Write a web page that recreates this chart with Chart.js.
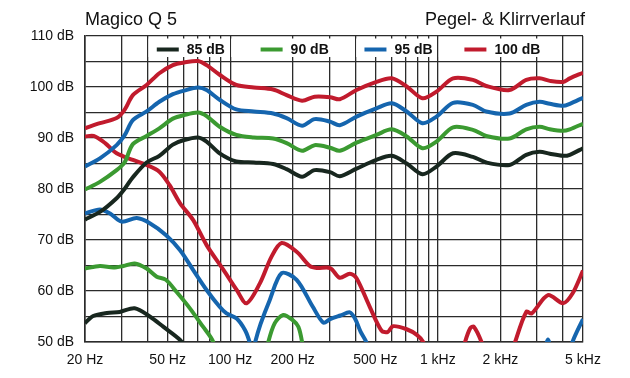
<!DOCTYPE html>
<html>
<head>
<meta charset="utf-8">
<title>Magico Q 5 - Pegel- & Klirrverlauf</title>
<script src="https://cdn.jsdelivr.net/npm/chart.js@4.4.1/dist/chart.umd.min.js"></script>
<style>
  html, body { margin: 0; padding: 0; background: #ffffff; }
  #chart { display: block; }
</style>
</head>
<body>
<canvas id="chart" width="630" height="378"></canvas>
<script>
// Titel
const chartTitle = 'Magico Q 5';
const chartSubtitle = 'Pegel- & Klirrverlauf';

// Serien (Pegel)
const seriesNames = ['85 dB', '90 dB', '95 dB', '100 dB'];
const seriesColors = ['#18271f', '#3b9a31', '#1565ae', '#c11b2d'];

// Frequenzgang (Grundwelle), gemeinsame Frequenzen in Hz
const fundFreq = [20, 23.6, 28.4, 31, 34, 39.6, 45.6, 53, 60, 70, 77, 89, 107, 130, 161, 187, 222, 255,
                  303, 337, 406, 506, 600, 708, 843, 985, 1184, 1475, 1710, 2215, 2665, 3090, 3460, 4010, 4320, 5000];
const level85 = [74.0, 75.5, 78.2, 80.0, 82.3, 85.2, 86.5, 88.7, 89.6, 90.1, 89.3, 87.0, 85.4, 85.2, 84.9, 83.9, 82.4, 83.7,
                 83.3, 82.5, 84.0, 85.7, 86.5, 85.0, 82.9, 84.4, 87.0, 86.3, 85.2, 84.7, 86.7, 87.3, 86.9, 86.5, 86.7, 88.0];
const level90 = [79.9, 81.4, 83.7, 85.2, 88.8, 90.4, 91.9, 93.8, 94.5, 95.0, 94.3, 92.2, 90.6, 90.1, 89.9, 89.0, 87.5, 88.6,
                 88.1, 87.5, 89.1, 90.6, 91.7, 90.3, 88.0, 89.3, 92.1, 91.6, 90.4, 89.9, 91.7, 92.2, 91.7, 91.4, 91.7, 92.8];
const level95 = [84.4, 86.0, 88.6, 90.5, 93.5, 95.2, 97.1, 98.6, 99.3, 99.9, 99.4, 97.5, 95.6, 95.2, 94.8, 93.9, 92.4, 93.7,
                 93.2, 92.5, 94.2, 95.8, 96.8, 95.2, 92.9, 94.2, 96.9, 96.5, 95.2, 94.8, 96.5, 97.1, 96.7, 96.3, 96.7, 97.9];
const level100 = [91.9, 92.9, 93.9, 95.5, 98.4, 100.4, 102.7, 104.3, 104.8, 105.1, 104.3, 102.4, 100.4, 99.9, 99.5, 98.4, 97.3, 98.1,
                  98.0, 97.6, 99.4, 101.0, 101.7, 100.1, 97.8, 99.1, 101.7, 101.4, 100.2, 99.4, 101.4, 101.7, 101.2, 101.0, 101.7, 102.8];

// Klirr (Verzerrungen), eigene Frequenzen je Serie; null = Lücke
const dist85Freq = [20, 21.9, 25.5, 29.4, 34.7, 41, 47.6, 57.4, 62];
const dist85 = [53.7, 55.1, 55.7, 55.9, 56.6, 55.0, 53.0, 50.4, 48.5];

const dist90Freq = [20, 23.6, 27.4, 30.6, 34.7, 39.6, 44.3, 49, 55, 64, 74, 82, 88,
                    120, 148, 152.6, 164, 180, 200, 213, 222, 226];
const dist90 = [64.4, 64.9, 64.6, 64.9, 65.4, 64.4, 62.8, 62.2, 59.9, 56.6, 53.0, 50.4, 47,
                null, 47, 50, 53.7, 55.3, 54.3, 53.0, 50, 47];

const dist95Freq = [20, 23.6, 26.4, 30, 35.5, 41, 49, 57.4, 66.4, 77, 89, 96, 107.5, 118, 124, 128, 132, 140, 155, 177,
                    209, 250, 281, 303, 340, 377, 400, 425, 452, 470,
                    1000, 3250, 3390, 3550, 4000, 4300, 4450, 5000];
const dist95 = [75.2, 76.0, 75.2, 73.6, 74.3, 73.3, 71.0, 68.0, 64.1, 60.2, 56.9, 55.6, 54.6, 52.3, 50.0, 47.5, 50, 53.5, 58.2, 63.5,
                62.2, 56.9, 53.8, 54.5, 55.2, 55.8, 54.5, 52.0, 50.0, 47,
                null, 47, 50.5, 47, null, 47, 50, 54.5];

const dist100Freq = [20, 22, 25, 28.4, 34, 39.6, 45.6, 51, 57.4, 66.4, 77, 93, 107.5, 120, 139, 158, 177, 209, 242, 261,
                     303, 337, 377, 406, 470, 536, 575, 608, 708, 792, 850, 900,
                     1100, 1300, 1352, 1432, 1490, 1623, 1700,
                     2000, 2250, 2356, 2665, 2830, 3390, 4010, 4450, 5000];
const dist100 = [90.3, 90.4, 89.0, 87.0, 85.7, 84.7, 83.4, 80.8, 77.2, 73.9, 69.0, 64.1, 60.2, 57.6, 61.5, 66.7, 69.4, 67.7, 64.9, 64.5,
                 64.5, 62.6, 63.4, 62.5, 56.9, 52.2, 52.0, 53.1, 52.5, 51.4, 50.0, 47,
                 null, 47, 50, 52.7, 53.0, 50, 47,
                 null, 47, 50, 55.9, 55.6, 59.2, 57.6, 59.5, 64.0];

// Achsen
const gridFreqs = [20, 30, 40, 50, 60, 70, 80, 90, 100, 200, 300, 400, 500, 600, 700, 800, 900,
                   1000, 2000, 3000, 4000, 5000];
const freqLabels = { 20: '20 Hz', 50: '50 Hz', 100: '100 Hz', 200: '200 Hz', 500: '500 Hz',
                     1000: '1 kHz', 2000: '2 kHz', 5000: '5 kHz' };

const gridColor = '#2b2b2b';
const fontFamily = '"Liberation Sans", Arial, Helvetica, sans-serif';

function toPoints(freqs, values) {
    return freqs.map((f, i) => ({ x: f, y: values[i] }));
}

const fundLevels = [level85, level90, level95, level100];
const distData = [[dist85Freq, dist85], [dist90Freq, dist90], [dist95Freq, dist95], [dist100Freq, dist100]];

const datasets = [];
seriesNames.forEach((name, i) => {
    const common = {
        borderColor: seriesColors[i],
        backgroundColor: seriesColors[i],
        borderWidth: 4,
        pointRadius: 0,
        tension: 0.3,
        fill: false,
        spanGaps: false,
        clip: 0
    };
    datasets.push({ label: name, data: toPoints(fundFreq, fundLevels[i]), ...common });
    datasets.push({ label: name + ' Klirr', data: toPoints(distData[i][0], distData[i][1]), ...common });
});

// Titel und Legende direkt zeichnen
const headerPlugin = {
    id: 'header',
    beforeDatasetsDraw(chart) {
        const { ctx, chartArea, scales } = chart;
        const x = scales.x;
        const boxes = [[40, 100], [100, 400], [400, 1000], [1000, 4000]];
        ctx.save();
        boxes.forEach(([a, b], i) => {
            const x0 = x.getPixelForValue(a) + 1;
            const x1 = x.getPixelForValue(b) - 1;
            ctx.fillStyle = '#ffffff';
            ctx.fillRect(x0, chartArea.top + 2.5, x1 - x0, 18.5);

            ctx.font = 'bold 14px ' + fontFamily;
            const label = seriesNames[i];
            const tw = ctx.measureText(label).width;
            const sw = 22, gap = 8;
            const total = sw + gap + tw;
            const start = (x0 + x1) / 2 - total / 2 + 2;
            const cy = chartArea.top + 13.5;
            ctx.strokeStyle = seriesColors[i];
            ctx.lineWidth = 4;
            ctx.beginPath();
            ctx.moveTo(start, cy);
            ctx.lineTo(start + sw, cy);
            ctx.stroke();
            ctx.fillStyle = '#111111';
            ctx.textBaseline = 'middle';
            ctx.textAlign = 'left';
            ctx.fillText(label, start + sw + gap, cy + 0.5);
        });

        ctx.font = '18px ' + fontFamily;
        ctx.fillStyle = '#111111';
        ctx.textBaseline = 'alphabetic';
        ctx.textAlign = 'left';
        ctx.fillText(chartTitle, chartArea.left, 25);
        ctx.textAlign = 'right';
        ctx.fillText(chartSubtitle, chartArea.right + 2, 25);
        ctx.restore();
    }
};

new Chart(document.getElementById('chart').getContext('2d'), {
    type: 'line',
    data: { datasets },
    options: {
        responsive: false,
        animation: false,
        events: [],
        layout: { padding: { top: 36, right: 47, bottom: 0, left: 0 } },
        scales: {
            x: {
                type: 'logarithmic',
                min: 20,
                max: 5000,
                afterBuildTicks: (scale) => {
                    scale.ticks = gridFreqs.map(v => ({ value: v }));
                },
                afterFit: (scale) => { scale.height = 36; },
                grid: { color: gridColor, lineWidth: 1.3, drawTicks: false },
                border: { color: gridColor, width: 1.6 },
                ticks: {
                    autoSkip: false,
                    maxRotation: 0,
                    padding: 10,
                    color: '#111111',
                    font: { family: fontFamily, size: 14 },
                    callback: (value) => freqLabels[value] || ''
                }
            },
            y: {
                min: 50,
                max: 110,
                afterFit: (scale) => { scale.width = 85; },
                grid: { color: gridColor, lineWidth: 1.3, drawTicks: false },
                border: { color: gridColor, width: 1.6 },
                ticks: {
                    stepSize: 5,
                    padding: 11,
                    color: '#111111',
                    font: { family: fontFamily, size: 14 },
                    callback: (value) => value % 10 === 0 ? value + ' dB' : ''
                }
            }
        },
        plugins: {
            legend: { display: false },
            tooltip: { enabled: false }
        }
    },
    plugins: [headerPlugin]
});
</script>
</body>
</html>
